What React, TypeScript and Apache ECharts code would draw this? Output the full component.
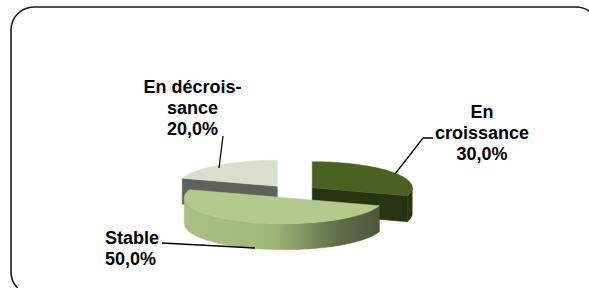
import React, { useEffect, useRef } from "react";
import * as echarts from "echarts";

// ---- data ----
const categories = ["En croissance", "Stable", "En décroissance"];
const labelNames = ["En\ncroissance", "Stable", "En décrois-\nsance"];
const values = [30, 50, 20];

// ---- layout / style (not data) ----
const CX = 292;
const CY = 191.5;
const RX = 100;
const RY = 26;
const DEPTH = 26;
const EXPLODE = 25;
const FONT = "Liberation Sans, Arial, sans-serif";

const sliceStyles = [
  { top: "#4b6122", side: "#2a3811", cut: "#27340f", z: 10 },
  {
    top: "#b4ca8c",
    side: {
      type: "linear", x: 0, y: 0, x2: 1, y2: 0,
      colorStops: [
        { offset: 0, color: "#a9c182" },
        { offset: 0.45, color: "#a0b77a" },
        { offset: 0.8, color: "#5f6b47" },
        { offset: 1, color: "#4c573a" },
      ],
    },
    cut: "#7d8c5c",
    z: 20,
  },
  { top: "#d8e0cd", side: "#8a8d85", cut: "#5f625b", z: 0 },
];

const labelPos = [
  { x: 482, y: 133, align: "center", line: [[433, 138], [423, 138], [395, 174]] },
  { x: 105, y: 248, align: "left", line: [[162, 243], [255, 248]] },
  { x: 192.5, y: 108, align: "center", line: [[223, 136], [219, 168]] },
];

const rad = (d: number) => (d * Math.PI) / 180;

function pt(cx: number, cy: number, a: number, dy = 0): number[] {
  return [cx + RX * Math.sin(rad(a)), cy - RY * Math.cos(rad(a)) + dy];
}

function arc(cx: number, cy: number, a: number, b: number, dy = 0): number[][] {
  const n = Math.max(2, Math.ceil(Math.abs(b - a) / 2));
  const out: number[][] = [];
  for (let k = 0; k <= n; k++) out.push(pt(cx, cy, a + ((b - a) * k) / n, dy));
  return out;
}

export default function App() {
  const ref = useRef<HTMLDivElement>(null);

  useEffect(() => {
    if (!ref.current) return;
    const chart = echarts.init(ref.current, undefined, { renderer: "svg" });
    const total = values.reduce((s, v) => s + v, 0);

    const renderItem = (params: any, api: any) => {
      const i = params.dataIndex;
      const v = api.value(0);
      let before = 0;
      for (let k = 0; k < i; k++) before += values[k];
      const a = (before / total) * 360;
      const b = a + (v / total) * 360;
      const mid = (a + b) / 2;
      const cx = CX + EXPLODE * Math.sin(rad(mid));
      const cy = CY - EXPLODE * (RY / RX) * Math.cos(rad(mid));
      const st = sliceStyles[i];
      const children: any[] = [];

      // outer side (front half only)
      const lo = Math.max(a, 90);
      const hi = Math.min(b, 270);
      if (lo < hi) {
        const pts = arc(cx, cy, lo, hi).concat(arc(cx, cy, hi, lo, DEPTH));
        children.push({
          type: "polygon",
          shape: { points: pts },
          style: { fill: st.side, stroke: st.side, lineWidth: 0.5 },
          z2: st.z + 1,
        });
      }
      // radial cut faces
      const cutFace = (ang: number, normal: number) => {
        if (Math.cos(rad(normal)) > -0.05) return;
        const r = pt(cx, cy, ang);
        children.push({
          type: "polygon",
          shape: { points: [[cx, cy], r, [r[0], r[1] + DEPTH], [cx, cy + DEPTH]] },
          style: { fill: st.cut, stroke: st.cut, lineWidth: 0.5 },
          z2: st.z + 1,
        });
      };
      cutFace(a, a - 90);
      cutFace(b, b + 90);
      // top face
      children.push({
        type: "polygon",
        shape: { points: [[cx, cy]].concat(arc(cx, cy, a, b)) },
        style: { fill: st.top, stroke: st.top, lineWidth: 0.5 },
        z2: st.z + 3,
      });
      // label
      const lp = labelPos[i];
      const pct = ((v / total) * 100).toFixed(1).replace(".", ",") + "%";
      children.push({
        type: "polyline",
        shape: { points: lp.line },
        style: { stroke: "#000", lineWidth: 1.3, fill: null },
        z2: 100,
      });
      children.push({
        type: "text",
        style: {
          text: labelNames[i] + "\n" + pct,
          x: lp.x,
          y: lp.y,
          align: lp.align,
          verticalAlign: "middle",
          fontFamily: FONT,
          fontWeight: "bold",
          fontSize: 18,
          lineHeight: 21,
          fill: "#000",
        },
        z2: 100,
      });
      return { type: "group", children };
    };

    chart.setOption({
      animation: false,
      backgroundColor: "#fff",
      graphic: [
        {
          type: "rect",
          shape: { x: 11, y: 7, width: 588, height: 288, r: 23 },
          style: { fill: "none", stroke: "#1a1a1a", lineWidth: 1.6 },
          z: 0,
        },
      ],
      series: [
        {
          type: "custom",
          coordinateSystem: "none",
          renderItem,
          data: values.map((v, i) => ({ name: categories[i], value: [v] })),
          z: 2,
        },
      ],
    });
    return () => chart.dispose();
  }, []);

  return (
    <div
      ref={ref}
      style={{ position: "fixed", left: 0, top: 0, width: 589, height: 288 }}
    />
  );
}
